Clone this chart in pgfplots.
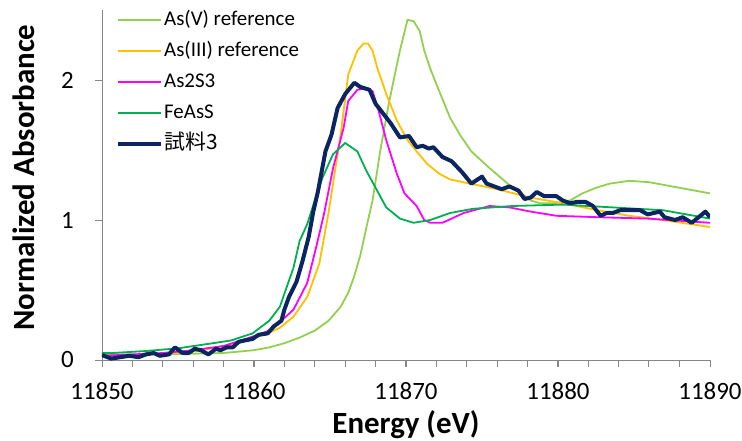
\documentclass[border=0pt]{standalone}
\usepackage{fontspec}
\setmainfont{Carlito}
\newfontfamily\cjk{Noto Sans CJK JP}
\usepackage{pgfplots}
\pgfplotsset{compat=1.18}
\definecolor{cAsV}{HTML}{92D050}
\definecolor{cAsIII}{HTML}{FFC000}
\definecolor{cAsS}{HTML}{FF00FF}
\definecolor{cFeAsS}{HTML}{00B050}
\definecolor{cSample}{HTML}{0A2560}
\definecolor{axisgray}{HTML}{868686}

\begin{document}
\begin{tikzpicture}
\begin{axis}[
  at={(0,0)}, anchor=south west,
  scale only axis, width=608bp, height=350bp,
  xmin=11850, xmax=11890, ymin=0, ymax=2.5,
  axis lines*=left,
  axis line style={draw=axisgray, line width=0.9bp},
  xtick={11850,11860,...,11890},
  minor xtick={11852,11854,...,11888},
  ytick={0,1,2},
  scaled x ticks=false,
  tick align=outside,
  every tick/.style={draw=axisgray, line width=0.9bp},
  major tick length=7bp, minor tick length=7bp,
  /pgf/number format/1000 sep={},
  /pgf/number format/assume math mode=true,
  tick label style={font=\fontsize{25}{29}\selectfont},
  xticklabel style={anchor=base, yshift=-32bp},
  yticklabel style={anchor=east, inner sep=0pt, xshift=-21bp},
  label style={font=\fontsize{31}{36}\selectfont\bfseries},
  xlabel={Energy (eV)},
  ylabel={Normalized Absorbance},
  xlabel style={at={(axis description cs:0.5,-0.209)}, anchor=base},
  ylabel style={at={(axis description cs:-0.111,0.521)}, anchor=base},
  legend style={at={(axis description cs:0.023,1.006)}, anchor=north west,
    draw=none, fill=none, inner sep=0pt, row sep=8bp,
    font=\fontsize{21}{25}\selectfont,
    nodes={inner sep=1bp, text height=16bp, text depth=5bp}},
  legend cell align=left,
  legend image code/.code={\draw[#1] (0bp,0bp) -- (43bp,0bp);},
]
\addplot[color=cAsV, line width=1.8bp] coordinates {
(11850,0.04) (11852,0.04) (11854,0.04) (11856,0.045) (11858,0.05)
(11860,0.07) (11861,0.09) (11862,0.12) (11863,0.16) (11864,0.21)
(11864.9,0.28) (11865.7,0.38) (11866.2,0.48) (11866.6,0.60) (11867.0,0.75)
(11867.4,0.95) (11867.8,1.14) (11868.3,1.49) (11868.9,1.85) (11869.6,2.21)
(11870.1,2.43) (11870.5,2.42) (11870.9,2.35) (11871.2,2.21) (11871.6,2.08)
(11872.0,1.97) (11872.9,1.73) (11873.6,1.60) (11874.3,1.49) (11875.5,1.37)
(11876.8,1.25) (11878.2,1.14) (11878.8,1.12) (11879.8,1.12) (11880.8,1.14)
(11881.6,1.19) (11882.5,1.23) (11883.4,1.26) (11884.7,1.28) (11886,1.27)
(11888,1.23) (11890,1.19)
};
\addlegendentry{As(V) reference}
\addplot[color=cAsIII, line width=1.8bp] coordinates {
(11850,0.03) (11852,0.035) (11854,0.045) (11856,0.06) (11857.3,0.085)
(11858.5,0.11) (11859.5,0.14) (11860.9,0.19) (11861.7,0.23) (11862.6,0.31)
(11863.5,0.45) (11864.3,0.69) (11864.9,1.05) (11865.3,1.33) (11865.7,1.61)
(11866.2,2.04) (11866.8,2.21) (11867.2,2.26) (11867.5,2.26) (11867.8,2.21)
(11868.1,2.09) (11868.7,1.90) (11869.4,1.71) (11870.1,1.57) (11870.7,1.49)
(11871.4,1.40) (11872.2,1.33) (11872.9,1.29) (11874.2,1.26) (11876.0,1.22)
(11878.2,1.16) (11880.3,1.12) (11882.6,1.07) (11884.7,1.03) (11886.9,1.00)
(11890,0.95)
};
\addlegendentry{As(III) reference}
\addplot[color=cAsS, line width=1.8bp] coordinates {
(11850,0.03) (11852,0.04) (11854,0.05) (11856,0.07) (11858,0.10)
(11860,0.17) (11861,0.21) (11861.7,0.27) (11862.6,0.36) (11863.5,0.55)
(11864.1,0.81) (11864.6,1.04) (11865.2,1.37) (11865.9,1.66) (11866.2,1.85)
(11866.8,1.93) (11867.3,1.94) (11867.8,1.92) (11868.2,1.78) (11868.7,1.57)
(11869.4,1.33) (11869.9,1.19) (11870.7,1.10) (11871.2,1.00) (11871.6,0.98)
(11872.4,0.98) (11873.8,1.05) (11875.5,1.10) (11876.8,1.09) (11878.2,1.06)
(11879.9,1.03) (11882.6,1.02) (11885.9,1.01) (11890,0.98)
};
\addlegendentry{As2S3}
\addplot[color=cFeAsS, line width=1.8bp] coordinates {
(11850,0.05) (11850.7,0.05) (11853,0.065) (11855.1,0.085) (11857.3,0.12)
(11858.5,0.14) (11859.9,0.19) (11861.0,0.28) (11861.7,0.38) (11862.6,0.66)
(11863.0,0.85) (11863.5,0.97) (11864.0,1.14) (11864.5,1.30) (11865.2,1.47)
(11866.0,1.55) (11866.8,1.49) (11867.4,1.35) (11868.1,1.21) (11868.7,1.09)
(11869.6,1.01) (11870.5,0.98) (11871.6,1.00) (11872.9,1.05) (11874.4,1.08)
(11877,1.10) (11880.3,1.11) (11883.6,1.09) (11886.9,1.07) (11890,1.01)
};
\addlegendentry{FeAsS}
\addplot[color=cSample, line width=4bp, line join=round] coordinates {
(11850,0.035) (11850.6,0.01) (11851.2,0.02) (11851.8,0.03) (11852.4,0.02)
(11852.9,0.04) (11853.4,0.05) (11853.8,0.03) (11854.4,0.04) (11854.8,0.09)
(11855.3,0.05) (11855.7,0.05) (11856.1,0.08) (11856.5,0.07) (11857.0,0.04)
(11857.5,0.08) (11857.8,0.07) (11858.2,0.09) (11858.6,0.09) (11859.0,0.13)
(11859.4,0.14) (11859.9,0.15) (11860.3,0.18) (11860.9,0.19) (11861.3,0.24)
(11861.8,0.28) (11862.0,0.36) (11862.3,0.45) (11862.8,0.56) (11863.2,0.71)
(11863.6,0.88) (11863.9,1.06) (11864.2,1.20) (11864.7,1.49) (11865.1,1.61)
(11865.5,1.80) (11866.0,1.90) (11866.6,1.98) (11867.0,1.95) (11867.6,1.93)
(11868.0,1.83) (11868.5,1.76) (11869.0,1.69) (11869.6,1.59) (11870.2,1.60)
(11870.7,1.52) (11871.1,1.53) (11871.5,1.51) (11871.8,1.52) (11872.4,1.45)
(11873.0,1.42) (11873.7,1.34) (11874.3,1.26) (11875.0,1.31) (11875.3,1.26)
(11876.3,1.22) (11876.8,1.24) (11877.4,1.21) (11877.8,1.15) (11878.2,1.16)
(11878.6,1.20) (11879.1,1.17) (11879.9,1.17) (11880.3,1.14) (11880.8,1.12)
(11881.3,1.13) (11881.8,1.13) (11882.3,1.10) (11882.8,1.03) (11883.2,1.05)
(11883.6,1.05) (11884.1,1.07) (11884.7,1.07) (11885.4,1.07) (11885.9,1.04)
(11886.7,1.06) (11887.0,1.02) (11887.7,1.00) (11888.2,1.02) (11888.8,0.98)
(11889.7,1.06) (11890,1.02)
};
\addlegendentry{{\cjk 試料3}}
\end{axis}
\pgfresetboundingbox
\useasboundingbox (-102bp,-81bp) rectangle (640bp,360bp);
\end{tikzpicture}
\end{document}
